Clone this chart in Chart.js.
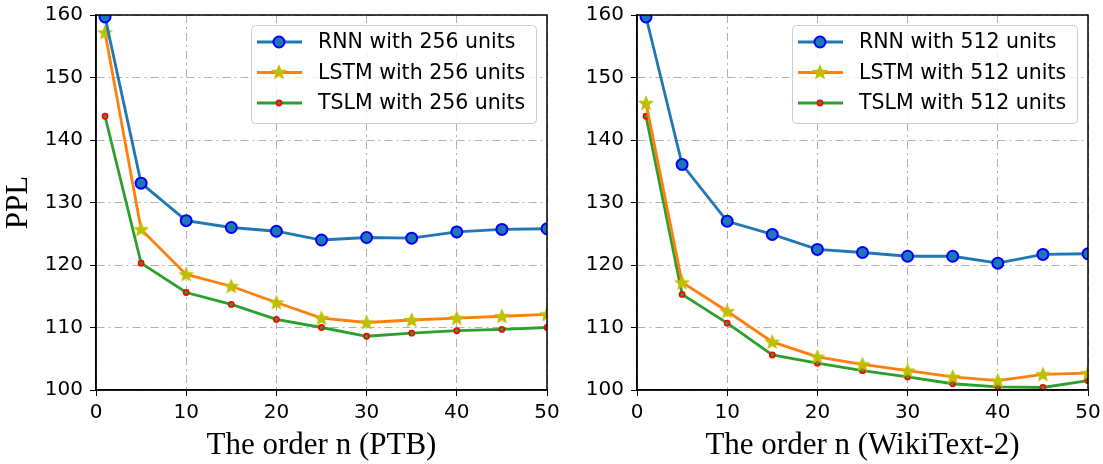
<!DOCTYPE html>
<html><head><meta charset="utf-8">
<script src="https://cdn.jsdelivr.net/npm/chart.js@4/dist/chart.umd.min.js"></script>
<style>
html,body{margin:0;padding:0;background:#fff;width:1103px;height:464px;overflow:hidden;}
canvas{position:absolute;top:0;}
#c1{left:0;} #c2{left:550px;}
</style></head><body>
<canvas id="c1" width="562" height="464"></canvas>
<canvas id="c2" width="553" height="464"></canvas>
<script>
const orders = [1,5,10,15,20,25,30,35,40,45,50];
const ptbRNN  = [159.7,133.1,127.1,126.0,125.4,124.0,124.4,124.3,125.3,125.7,125.8];
const ptbLSTM = [157.2,125.7,118.5,116.6,114.0,111.5,110.8,111.2,111.5,111.8,112.1];
const ptbTSLM = [143.8,120.3,115.6,113.7,111.3,110.0,108.6,109.1,109.5,109.7,110.0];
const wikiRNN  = [159.7,136.1,127.0,124.9,122.5,122.0,121.4,121.4,120.3,121.7,121.8];
const wikiLSTM = [145.9,117.2,112.6,107.7,105.3,104.1,103.1,102.1,101.5,102.5,102.7];
const wikiTSLM = [143.8,115.3,110.7,105.6,104.3,103.1,102.1,101.0,100.5,100.4,101.5];
const yTicks = [100,110,120,130,140,150,160];
const xTicks = [0,10,20,30,40,50];

function starImage(){
  const c=document.createElement('canvas'); c.width=18; c.height=18;
  const g=c.getContext('2d'); const cx=9, cy=9.5, R=6.8, r=3.0;
  g.beginPath();
  for(let i=0;i<10;i++){const a=-Math.PI/2+i*Math.PI/5; const rr=i%2?r:R; g.lineTo(cx+rr*Math.cos(a), cy+rr*Math.sin(a));}
  g.closePath(); g.fillStyle='#bfbf00'; g.fill(); g.strokeStyle='#bfbf00'; g.lineWidth=1.2; g.stroke();
  return c;
}
const STAR = starImage();

function mk(label,vals,kind){
  const base={label, data: orders.map((x,i)=>({x,y:vals[i]})), borderWidth:2.8, tension:0, clip:0, fill:false};
  if(kind==='rnn') return Object.assign(base,{borderColor:'#1f77b4',backgroundColor:'#1f77b4',pointBackgroundColor:'#1f77b4',pointBorderColor:'#0000ff',pointBorderWidth:2,pointRadius:5.5,pointStyle:'circle'});
  if(kind==='lstm') return Object.assign(base,{borderColor:'#ff7f0e',backgroundColor:'#ff7f0e',pointStyle:STAR,pointRadius:7});
  return Object.assign(base,{borderColor:'#2ca02c',backgroundColor:'#2ca02c',pointBackgroundColor:'#2ca02c',pointBorderColor:'#ff0000',pointBorderWidth:1.6,pointRadius:2.6,pointStyle:'circle'});
}

const framePlugin={id:'frame',afterDatasetsDraw(chart){
  const a=chart.chartArea, ctx=chart.ctx; ctx.save(); ctx.strokeStyle='#000'; ctx.lineWidth=1.5;
  ctx.strokeRect(a.left,a.top,a.right-a.left,a.bottom-a.top); ctx.restore();
}};
const legendPlugin={id:'boxlegend',afterDraw(chart){
  const a=chart.chartArea, ctx=chart.ctx;
  const w=285,h=98; const x=a.right-11-w, y=a.top+10;
  ctx.save();
  ctx.beginPath(); ctx.roundRect(x+0.5,y+0.5,w,h,4);
  ctx.fillStyle='rgba(255,255,255,0.8)'; ctx.fill(); ctx.strokeStyle='#cccccc'; ctx.lineWidth=1; ctx.stroke();
  chart.data.datasets.forEach((ds,i)=>{
    const cy=y+17+i*30.5;
    ctx.strokeStyle=ds.borderColor; ctx.lineWidth=2.8; ctx.beginPath(); ctx.moveTo(x+6,cy); ctx.lineTo(x+51,cy); ctx.stroke();
    const mx=x+28;
    if(ds.pointStyle===STAR){ ctx.drawImage(STAR,mx-9,cy-9.5); }
    else { ctx.beginPath(); ctx.arc(mx,cy,ds.pointRadius,0,Math.PI*2); ctx.fillStyle=ds.pointBackgroundColor; ctx.fill(); ctx.lineWidth=ds.pointBorderWidth; ctx.strokeStyle=ds.pointBorderColor; ctx.stroke(); }
    ctx.fillStyle='#000'; ctx.font='20.5px "DejaVu Sans"'; ctx.textBaseline='middle'; ctx.textAlign='left';
    ctx.fillText(ds.label,x+67,cy+1);
  });
  ctx.restore();
}};

function makeChart(id, datasets, xTitle, yTitle, yWidth, padRight){
  const tickFont={family:'DejaVu Sans',size:20};
  const grid={color:'#b0b0b0',lineWidth:1,tickColor:'#000',tickLength:6,tickWidth:1};
  const border={display:true,color:'#000',width:1.5,dash:[8,4,2,4]};
  return new Chart(document.getElementById(id),{
    type:'line',
    data:{datasets},
    options:{
      responsive:false, animation:false, events:[],
      layout:{padding:{top:15,left:0,right:padRight,bottom:0}},
      plugins:{legend:{display:false},tooltip:{enabled:false}},
      scales:{
        x:{type:'linear',min:0,max:50,
          afterBuildTicks:s=>{s.ticks=xTicks.map(v=>({value:v}));},
          afterFit:s=>{s.height=74; s.paddingLeft=0; s.paddingRight=0;},
          ticks:{font:tickFont,color:'#000',padding:5,maxRotation:0},
          grid, border,
          title:{display:true,text:xTitle,color:'#000',font:{family:'Liberation Serif',size:31,lineHeight:1.2},padding:{top:0,bottom:0}}},
        y:{type:'linear',min:100,max:160,
          afterBuildTicks:s=>{s.ticks=yTicks.map(v=>({value:v}));},
          afterFit:s=>{s.width=yWidth; s.paddingTop=0; s.paddingBottom=0;},
          ticks:{font:tickFont,color:'#000',padding:7},
          grid, border,
          title:{display:!!yTitle,text:yTitle||'',color:'#000',font:{family:'Liberation Serif',size:31,lineHeight:1.2},padding:{top:0,bottom:0}}}
      }
    },
    plugins:[framePlugin,legendPlugin]
  });
}

makeChart('c1',[mk('RNN with 256 units',ptbRNN,'rnn'),mk('LSTM with 256 units',ptbLSTM,'lstm'),mk('TSLM with 256 units',ptbTSLM,'tslm')],'The order n (PTB)','PPL',96,15);
makeChart('c2',[mk('RNN with 512 units',wikiRNN,'rnn'),mk('LSTM with 512 units',wikiLSTM,'lstm'),mk('TSLM with 512 units',wikiTSLM,'tslm')],'The order n (WikiText-2)',null,87,15);
</script>
</body></html>
